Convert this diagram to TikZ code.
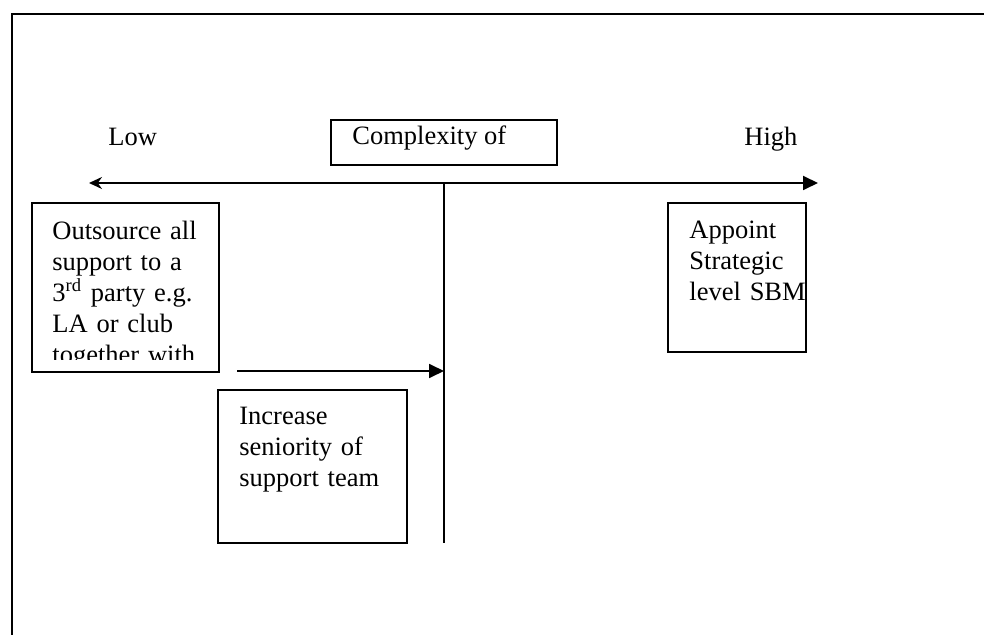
\documentclass[tikz,border=0pt]{standalone}
\usepackage{fontspec}
\setmainfont{Liberation Serif}
\usetikzlibrary{arrows.meta}

\begin{document}
\begin{tikzpicture}[
  x=0.5pt, y=-0.5pt,
  frame/.style={line width=1.2pt},
  choice/.style={rectangle, draw, line width=0.9pt, inner sep=0pt, outer sep=0pt},
  txt/.style={font=\fontsize{13.25pt}{15.5pt}\selectfont, inner sep=0pt, align=left},
  axis/.style={line width=0.9pt},
  >=Triangle
]
  %% --- area (unita': pixel del riferimento) ---
  \useasboundingbox (0,0) rectangle (984,635);

  %% --- cornice aperta in basso e a destra ---
  \coordinate (frTL) at (12,14);
  \coordinate (frTR) at (984,14);
  \coordinate (frBL) at (12,635);
  \draw[frame] (frTR) -- (frTL) -- (frBL);

  %% --- asse della complessita' ---
  \node[choice, minimum width=113pt, minimum height=22.5pt] (cmplx) at (444,142.5) {};
  \node[txt, anchor=base west] (cmplxTxt) at (352,145) {Complexity of};
  \node[txt, anchor=base west] (lowTxt) at (108,146) {Low};
  \node[txt, anchor=base west] (highTxt) at (744,146) {High};

  \coordinate (lowEnd) at (89,183);
  \coordinate (highEnd) at (818,183);
  \draw[axis, {Stealth[length=6.5pt, width=6pt]}-{Triangle[length=7.5pt, width=7pt]}]
    (lowEnd) -- (highEnd);

  \coordinate (midTop) at (444,183);
  \coordinate (midBot) at (444,543);
  \draw[axis] (midTop) -- (midBot);

  %% --- opzioni ---
  \node[choice, minimum width=93.5pt, minimum height=84.5pt] (outsrc) at (125.5,287.5) {};
  \begin{scope}
    \clip (outsrc.north west) rectangle ([yshift=6pt]outsrc.south east);
    \node[txt, text width=88pt, anchor=north west] (outsrcTxt) at (52,221)
      {Outsource all\\support to a\\3\textsuperscript{rd} party e.g.\\LA or club\\together with};
  \end{scope}

  \node[choice, minimum width=94.5pt, minimum height=76.5pt] (incr) at (312.5,466.5) {};
  \node[txt, text width=85pt, anchor=north west] (incrTxt) at (239,407)
    {Increase\\seniority of\\support team};

  \node[choice, minimum width=69pt, minimum height=74.5pt] (appt) at (737,277.5) {};
  \node[txt, text width=60pt, anchor=north west] (apptTxt) at (689,221)
    {Appoint\\Strategic\\level SBM};

  %% --- spostamento verso il centro ---
  \coordinate (shiftStart) at (237,371);
  \coordinate (shiftEnd) at (444,371);
  \draw[axis, -{Triangle[length=7.5pt, width=7pt]}] (shiftStart) -- (shiftEnd);
\end{tikzpicture}
\end{document}
